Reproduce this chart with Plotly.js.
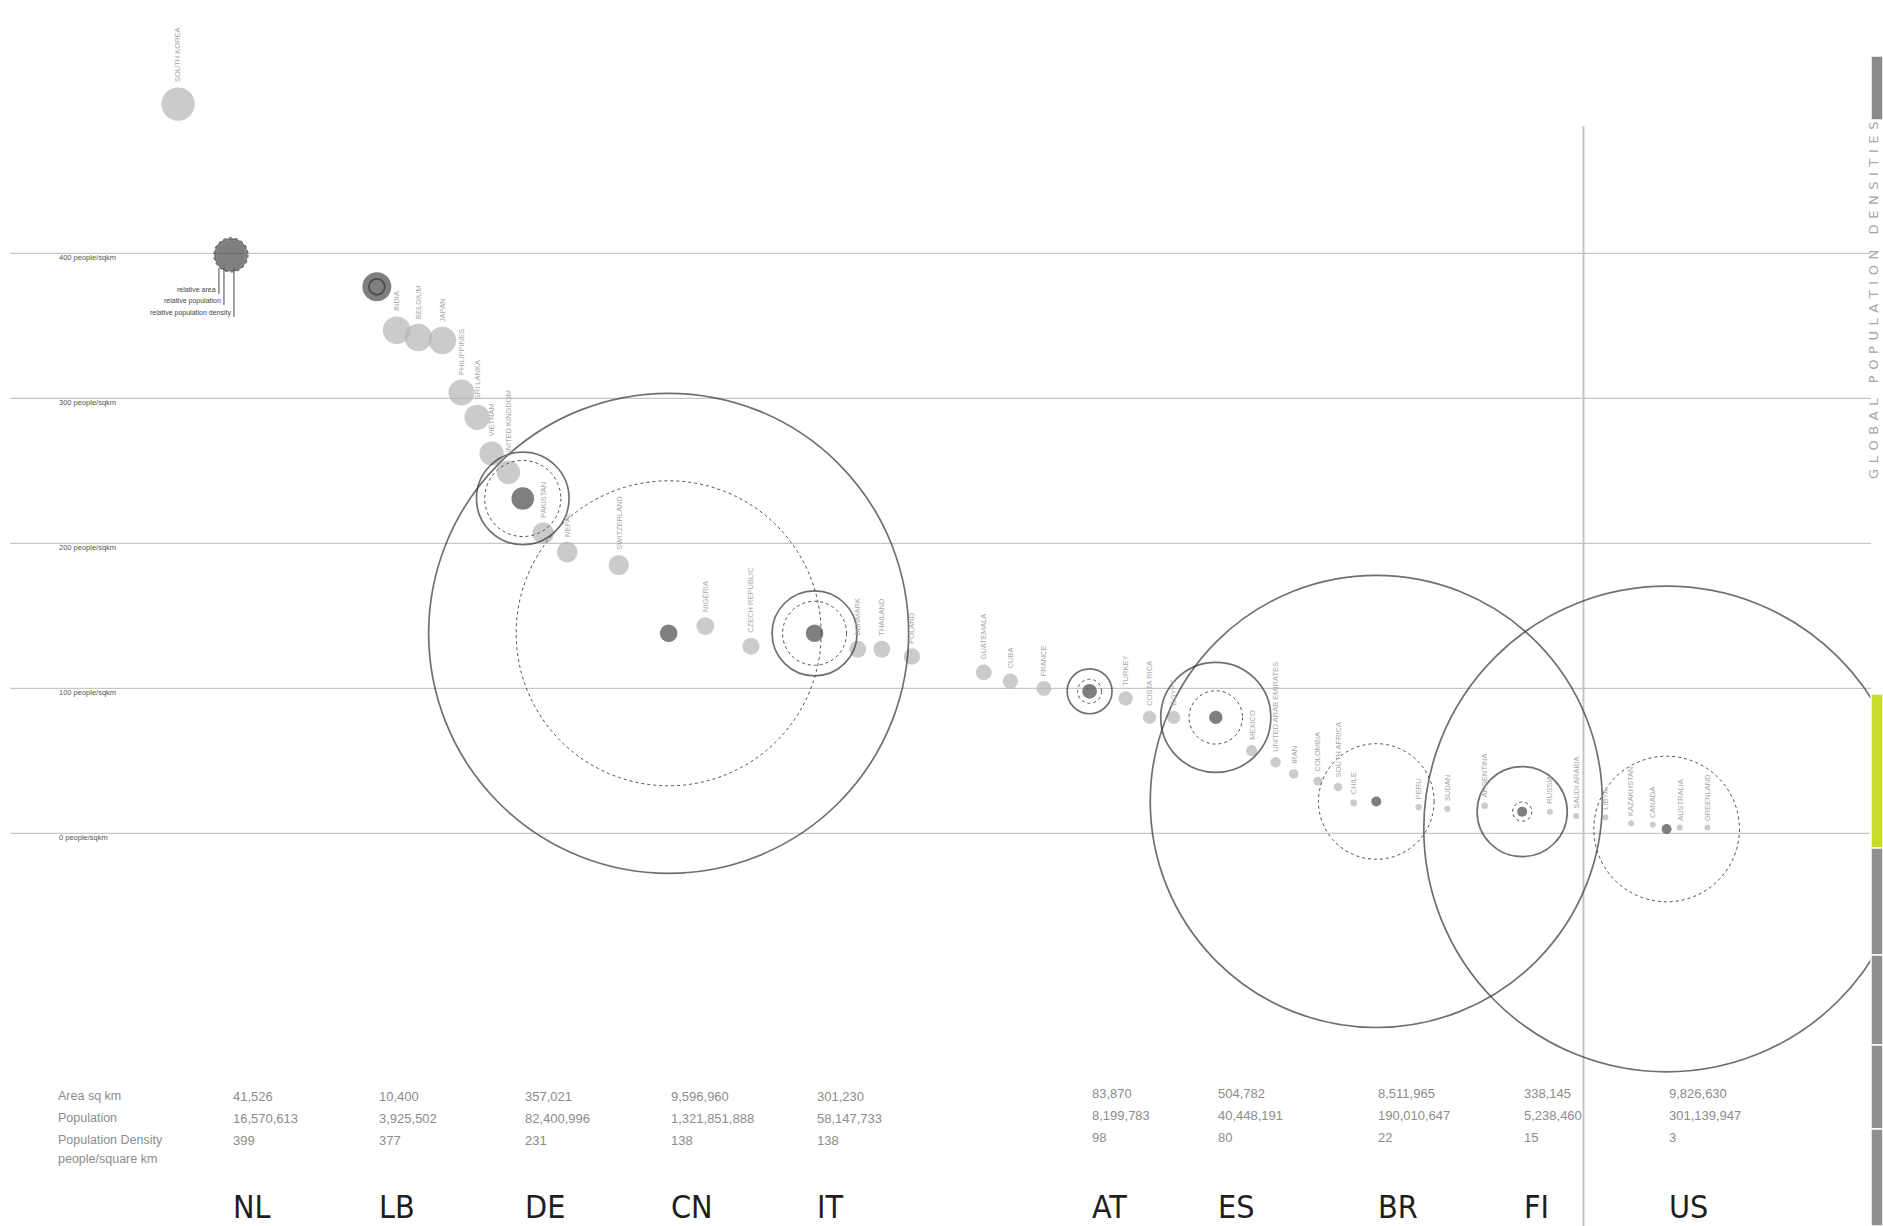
<!DOCTYPE html>
<html><head><meta charset="utf-8">
<script src="https://cdn.plot.ly/plotly-3.0.1.min.js"></script>
<style>html,body{margin:0;padding:0;background:#fff;overflow:hidden}#chart{width:1883px;height:1226px}</style>
</head><body><div id="chart"></div>
<script>
// ---- featured countries ----
const codes      = ['NL','LB','DE','CN','IT','AT','ES','BR','FI','US'];
const ctryPos    = [1, 2, 3, 4, 5, 6.885, 7.75, 8.85, 9.85, 10.84];
const areaSqKm   = [41526, 10400, 357021, 9596960, 301230, 83870, 504782, 8511965, 338145, 9826630];
const population = [16570613, 3925502, 82400996, 1321851888, 58147733, 8199783, 40448191, 190010647, 5238460, 301139947];
const density    = [399, 377, 231, 138, 138, 98, 80, 22, 15, 3];

// ---- other countries (grey dots) ----
const otherNames = ['SOUTH KOREA','INDIA','BELGIUM','JAPAN','PHILIPPINES','SRI LANKA','VIETNAM','UNITED KINGDOM',
  'PAKISTAN','NEPAL','SWITZERLAND','NIGERIA','CZECH REPUBLIC','DENMARK','THAILAND','POLAND',
  'GUATEMALA','CUBA','FRANCE','TURKEY','COSTA RICA','EGYPT','MEXICO','UNITED ARAB EMIRATES','IRAN',
  'COLOMBIA','SOUTH AFRICA','CHILE','PERU','SUDAN','ARGENTINA','RUSSIA','SAUDI ARABIA',
  'LIBYA','KAZAKHSTAN','CANADA','AUSTRALIA','GREENLAND'];
const otherPos = [0.638, 2.136, 2.284, 2.449, 2.58, 2.687, 2.786, 2.901,
  3.14, 3.305, 3.658, 4.251, 4.564, 5.296, 5.461, 5.667,
  6.16, 6.342, 6.572, 7.132, 7.296, 7.461, 7.996, 8.16, 8.284,
  8.449, 8.588, 8.695, 9.14, 9.337, 9.593, 10.04, 10.22,
  10.42, 10.597, 10.745, 10.93, 11.12];
const otherDensity = [503, 347, 342, 340, 304, 287, 262, 249,
  207, 194, 185, 143, 129, 127, 127, 122,
  111, 105, 100, 93, 80, 80, 57, 49, 41,
  36, 32, 21, 18, 17, 19, 15, 12,
  11, 7, 6, 4, 4];

// ---- axis / text ----
const gridVals   = [0, 100, 200, 300, 400];
const gridLabels = ['0 people/sqkm','100 people/sqkm','200 people/sqkm','300 people/sqkm','400 people/sqkm'];
const rowLabels  = ['Area sq km','Population','Population Density','people/square km'];
const legendLabels = ['relative area','relative population','relative population density'];
const sideTitle  = 'GLOBAL POPULATION DENSITIES';
const dividerPos = 10.27;

// ---- scales (Plotly area mode halves the value, hence the factor 2) ----
const DOT_REF  = 2 * 0.45;                       // density -> marker area
const AREA_REF = 2 * 9596960 / (480 * 480);      // land area -> ring area
const POP_MAX  = 1321851888, POP_DIAM = 305;     // population -> dashed ring
const popRadius = p => 0.5 * POP_DIAM * Math.sqrt(p / POP_MAX);
const dotRadius = d => 0.5 * Math.max(3, Math.sqrt(d / 0.45));
const fmt = n => n.toLocaleString('en-US');

const traces = [
  { type:'scatter', mode:'markers', x: otherPos, y: otherDensity, hoverinfo:'skip',
    marker:{ size: otherDensity, sizemode:'area', sizeref: DOT_REF, sizemin:3, color:'#b5b5b5', line:{width:0} } },
  { type:'scatter', mode:'markers', x: ctryPos, y: density, hoverinfo:'skip',
    marker:{ size: density, sizemode:'area', sizeref: DOT_REF, sizemin:5, color:'#484848', line:{width:0} } },
  { type:'scatter', mode:'markers', x: ctryPos, y: density, hoverinfo:'skip',
    marker:{ symbol:'circle-open', size: areaSqKm, sizemode:'area', sizeref: AREA_REF, color:'#333333', line:{width:1.7, color:'#333333'} } }
];

const shapes = [];
gridVals.forEach(v => shapes.push({ type:'line', layer:'below', xref:'paper', yref:'y',
  x0:0.0053, x1:0.9936, y0:v, y1:v, line:{color:'#c6c6c6', width:1.2} }));
shapes.push({ type:'line', layer:'below', xref:'x', yref:'paper', x0:dividerPos, x1:dividerPos,
  y0:0, y1:0.897, line:{color:'#c4c4c4', width:2} });
// dashed population circles
codes.forEach((c,i) => {
  const r = popRadius(population[i]);
  shapes.push({ type:'circle', layer:'above', xref:'x', yref:'y', xsizemode:'pixel', ysizemode:'pixel',
    xanchor: ctryPos[i], yanchor: density[i], x0:-r, x1:r, y0:-r, y1:r,
    line:{color:'#4d4d4d', width:1, dash:'dot'} });
});
// legend leader lines at NL
const legX = [-12, -7, 3], legY = [35, 46, 58];
legendLabels.forEach((t,k) => shapes.push({ type:'line', xref:'x', yref:'y', xsizemode:'pixel', ysizemode:'pixel',
  xanchor: ctryPos[0], yanchor: density[0], x0:legX[k], x1:legX[k], y0:-13, y1:-(legY[k]+4),
  line:{color:'#444', width:1} }));
// side bar
const px = 1871/1883;
const tabs = [[56,120,'#8a8a8a'],[694,848,'#c9dc2a'],[848,955,'#8f8f8f'],[955,1045,'#8f8f8f'],[1045,1129,'#8f8f8f'],[1129,1226,'#8f8f8f']];
tabs.forEach(t => shapes.push({ type:'rect', xref:'paper', yref:'paper', x0:px, x1:1,
  y0:1 - t[1]/1226, y1:1 - t[0]/1226, fillcolor:t[2], line:{color:'#ffffff', width:1.5} }));

const ann = [];
gridVals.forEach((v,i) => ann.push({ xref:'paper', yref:'y', x:0.0303, y:v, yshift:-4, xanchor:'left', yanchor:'middle',
  text: gridLabels[i], showarrow:false, font:{size:7.5, color:'#555'} }));
otherNames.forEach((n,i) => ann.push({ xref:'x', yref:'y', x: otherPos[i], y: otherDensity[i],
  yshift: dotRadius(otherDensity[i]) + 3, xanchor:'center', yanchor:'bottom', textangle:-90,
  text:n, showarrow:false, font:{size:7.5, color:'#a8a8a8'} }));
legendLabels.forEach((t,k) => ann.push({ xref:'x', yref:'y', x: ctryPos[0], y: density[0],
  xshift: legX[k] - 1, yshift: -legY[k], xanchor:'right', yanchor:'middle', text:t, showarrow:false,
  font:{size:7, color:'#444'} }));
// table
const rowY = [1096, 1118, 1140, 1159].map(p => 1 - p/1226);
const tableFont = {size:13, color:'#8c8c8c', family:'Liberation Sans Narrow, Liberation Sans, sans-serif'};
rowLabels.forEach((t,r) => ann.push({ xref:'paper', yref:'paper', x:56/1883, y:rowY[r], xanchor:'left', yanchor:'middle',
  text:t, showarrow:false, font:Object.assign({}, tableFont, {size:12.5}) }));
codes.forEach((c,i) => {
  const vals = [fmt(areaSqKm[i]), fmt(population[i]), String(density[i])];
  const lift = i >= 5 ? 3 : 0;
  vals.forEach((v,r) => ann.push({ xref:'x', yref:'paper', x: ctryPos[i], y: rowY[r], yshift: lift, xanchor:'left', yanchor:'middle',
    text:v, showarrow:false, font:tableFont }));
  ann.push({ xref:'x', yref:'paper', x: ctryPos[i], y: 1 - 1207/1226, xanchor:'left', yanchor:'middle',
    text:c, showarrow:false, font:{size:32, color:'#1e1e1e', stretch:'condensed', family:'Liberation Sans Narrow, DejaVu Sans Condensed, sans-serif'} });
});
ann.push({ xref:'paper', yref:'paper', x:1873/1883, y:1 - 300/1226, xanchor:'center', yanchor:'middle', textangle:-90,
  text: sideTitle.split('').join('\u2004\u200A'), showarrow:false, font:{size:13, color:'#a6a6a6', family:'DejaVu Sans, sans-serif'} });

const layout = {
  width:1883, height:1226, margin:{l:0,r:0,t:0,b:0}, paper_bgcolor:'#ffffff', plot_bgcolor:'#ffffff',
  showlegend:false, font:{family:'Liberation Sans, Arial, sans-serif'},
  xaxis:{ range:[-0.583, 12.323], visible:false, fixedrange:true },
  yaxis:{ range:[-270.8, 574.8], visible:false, fixedrange:true },
  shapes: shapes, annotations: ann
};
Plotly.newPlot('chart', traces, layout, {staticPlot:true, displayModeBar:false});
</script></body></html>
